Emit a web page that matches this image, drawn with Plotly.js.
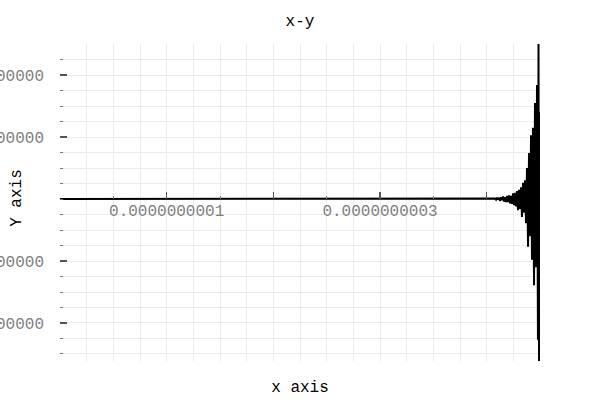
<!DOCTYPE html>
<html>
<head>
<meta charset="utf-8">
<script src="https://cdn.plot.ly/plotly-3.0.1.min.js"></script>
<style>html,body{margin:0;padding:0;background:#fff;}#chart{width:600px;height:400px;}</style>
</head>
<body>
<div id="chart"></div>
<script>
// Signal samples (x in seconds, y in axis units)
const xValues = [0, 400.0e-12,
  407.8e-12, 408.8e-12, 409.7e-12, 410.6e-12, 411.6e-12, 412.5e-12, 413.4e-12, 414.4e-12, 415.3e-12, 416.3e-12,
  417.2e-12, 418.1e-12, 419.1e-12, 420.0e-12, 420.9e-12, 421.9e-12, 422.8e-12, 423.8e-12, 424.7e-12, 425.6e-12,
  426.6e-12, 427.5e-12, 428.4e-12, 429.4e-12, 430.3e-12, 431.3e-12, 432.2e-12, 433.1e-12, 434.1e-12, 435.0e-12,
  435.9e-12, 436.9e-12, 437.8e-12, 438.8e-12, 439.7e-12, 440.6e-12, 441.6e-12, 442.5e-12, 443.4e-12, 444.4e-12,
  445.3e-12, 446.3e-12, 447.2e-12, 448.1e-12, 448.6e-12, 449.1e-12, 449.6e-12, 450.0e-12];
const yValues = [0, 0,
  0.01e11, -0.01e11, 0.02e11, -0.01e11, 0.02e11, -0.03e11, 0.03e11, -0.02e11, 0.04e11, -0.04e11,
  0.03e11, -0.05e11, 0.05e11, -0.05e11, 0.06e11, -0.07e11, 0.05e11, -0.08e11, 0.09e11, -0.10e11,
  0.10e11, -0.12e11, 0.13e11, -0.18e11, 0.15e11, -0.16e11, 0.19e11, -0.29e11, 0.26e11, -0.22e11,
  0.30e11, -0.39e11, 0.50e11, -0.77e11, 0.74e11, -0.60e11, 1.03e11, -0.98e11, 1.15e11, -1.39e11,
  1.55e11, -1.10e11, 1.84e11, -2.27e11, 2.56e11, -2.63e11, 1.40e11, -2.63e11];

const xTickVals = [1e-10, 2e-10, 3e-10, 4e-10];
const xTickText = ['0.0000000001', '', '0.0000000003', ''];
const yTickVals = [-2e11, -1e11, 1e11, 2e11];
const yTickText = ['-200000000000', '-100000000000', '100000000000', '200000000000'];

const xRange = [0, 450e-12];
const yRange = [-2.613e11, 2.5e11];

const FONT = 'Liberation Mono';
const GRID = '#ebebeb';

const traces = [
  {x: [], y: [], xaxis: 'x', yaxis: 'y', type: 'scatter', mode: 'lines', hoverinfo: 'skip'},
  {x: xValues, y: yValues, xaxis: 'x2', yaxis: 'y', type: 'scatter', mode: 'lines',
   line: {color: '#000000', width: 2}}
];

const zeroPos = (0 - yRange[0]) / (yRange[1] - yRange[0]);

const layout = {
  width: 600, height: 400,
  margin: {l: 60, r: 60, t: 44, b: 39, pad: 0},
  paper_bgcolor: '#ffffff', plot_bgcolor: '#ffffff',
  showlegend: false,
  title: {text: 'x-y', font: {family: FONT, size: 16, color: '#000000'},
          x: 0.5, xanchor: 'center', y: 0.95, yanchor: 'middle', yref: 'container'},
  xaxis: {
    range: xRange, tickmode: 'linear', tick0: 0, dtick: 25e-12,
    showgrid: true, gridcolor: GRID, gridwidth: 1,
    showticklabels: false, ticks: '', zeroline: false, showline: false, automargin: false,
    title: {text: 'x axis', font: {family: FONT, size: 16, color: '#000000'}, standoff: 19}
  },
  xaxis2: {
    overlaying: 'x', range: xRange, anchor: 'free', position: zeroPos, side: 'bottom',
    tickmode: 'array', tickvals: xTickVals, ticktext: xTickText,
    ticks: 'inside', ticklen: 7, tickwidth: 1.5, tickcolor: '#555555',
    showgrid: false, zeroline: false, showline: false, automargin: false,
    tickfont: {family: FONT, size: 16, color: '#808080'},
    minor: {tickmode: 'linear', tick0: 0, dtick: 50e-12, ticks: 'inside', ticklen: 3,
            tickcolor: '#777777', tickwidth: 1, showgrid: false}
  },
  yaxis: {
    range: yRange, tickmode: 'array', tickvals: yTickVals, ticktext: yTickText,
    ticks: 'inside', ticklen: 7, tickwidth: 2, tickcolor: '#555555',
    ticklabelstandoff: 15,
    showgrid: true, gridcolor: GRID, gridwidth: 1,
    zeroline: false, showline: false, automargin: false,
    tickfont: {family: FONT, size: 16, color: '#808080'},
    minor: {tickmode: 'linear', tick0: 0, dtick: 0.25e11, ticks: 'inside', ticklen: 3,
            tickcolor: '#777777', tickwidth: 1, showgrid: true, gridcolor: GRID, gridwidth: 1}
  },
  annotations: [{
    text: 'Y axis', xref: 'paper', yref: 'paper', x: -0.09, y: 0.514,
    xanchor: 'center', yanchor: 'middle', textangle: -90, showarrow: false,
    font: {family: FONT, size: 16, color: '#000000'}
  }]
};

Plotly.newPlot('chart', traces, layout, {displayModeBar: false, staticPlot: true});
</script>
</body>
</html>
